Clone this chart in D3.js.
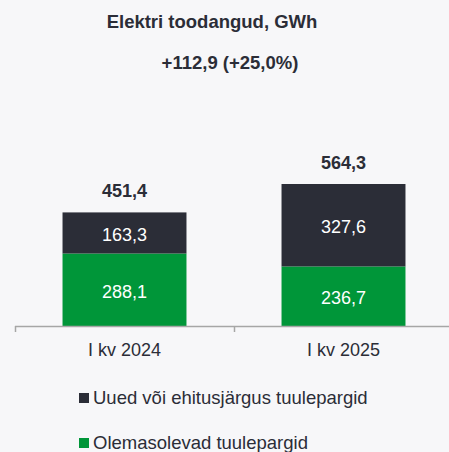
<!DOCTYPE html>
<html>
<head>
<meta charset="utf-8">
<script src="https://cdn.jsdelivr.net/npm/d3@7"></script>
<style>
  html, body { margin: 0; padding: 0; background: #f7f7f9; }
  svg { display: block; font-family: "Liberation Sans", Arial, sans-serif; }
</style>
</head>
<body>
<svg id="chart" width="449" height="452"></svg>
<script>
var categories = ["I kv 2024", "I kv 2025"];
var existing = [288.1, 236.7];
var newParks = [163.3, 327.6];
var totals = [451.4, 564.3];
var seriesNames = ["Uued või ehitusjärgus tuulepargid", "Olemasolevad tuulepargid"];
var titleText = "Elektri toodangud, GWh";
var changeText = "+112,9 (+25,0%)";

var svg = d3.select("#chart");
var colors = { dark: "#2b2d37", green: "#009639", text: "#2b2d37" };

var fmt = function(v) { return d3.format(".1f")(v).replace(".", ","); };

var x = d3.scaleBand().domain(categories).range([15, 453]).padding(0);
var barW = x.bandwidth() * 0.566;
var y = d3.scaleLinear().domain([0, 564.3]).range([326, 184]);

var data = categories.map(function(c, i) {
    return { cat: c, existing: existing[i], newP: newParks[i], total: totals[i] };
});

// title
svg.append("text")
    .attr("x", 212).attr("y", 27.5)
    .attr("text-anchor", "middle")
    .attr("font-size", 18.5).attr("font-weight", "bold")
    .attr("fill", colors.text)
    .text(titleText);

svg.append("text")
    .attr("x", 230).attr("y", 68.5)
    .attr("text-anchor", "middle")
    .attr("font-size", 18.5).attr("font-weight", "bold")
    .attr("fill", colors.text)
    .text(changeText);

var g = svg.selectAll(".bar").data(data).join("g").attr("class", "bar");

g.append("rect")
    .attr("x", d => x(d.cat) + (x.bandwidth() - barW) / 2)
    .attr("width", barW)
    .attr("y", d => y(d.existing))
    .attr("height", d => y(0) - y(d.existing))
    .attr("fill", colors.green);

g.append("rect")
    .attr("x", d => x(d.cat) + (x.bandwidth() - barW) / 2)
    .attr("width", barW)
    .attr("y", d => y(d.existing + d.newP))
    .attr("height", d => y(d.existing) - y(d.existing + d.newP))
    .attr("fill", colors.dark);

// labels inside segments
g.append("text")
    .attr("x", d => x(d.cat) + x.bandwidth() / 2)
    .attr("y", d => (y(0) + y(d.existing)) / 2 + 8)
    .attr("text-anchor", "middle")
    .attr("font-size", 18).attr("fill", "#fff")
    .text(d => fmt(d.existing));

g.append("text")
    .attr("x", d => x(d.cat) + x.bandwidth() / 2)
    .attr("y", d => (y(d.existing) + y(d.existing + d.newP)) / 2 + 8)
    .attr("text-anchor", "middle")
    .attr("font-size", 18).attr("fill", "#fff")
    .text(d => fmt(d.newP));

g.append("text")
    .attr("x", d => x(d.cat) + x.bandwidth() / 2)
    .attr("y", d => y(d.total) - 15)
    .attr("text-anchor", "middle")
    .attr("font-size", 18).attr("font-weight", "bold")
    .attr("fill", colors.text)
    .text(d => fmt(d.total));

// axis
var axis = svg.append("g");
axis.append("line")
    .attr("x1", 15).attr("x2", 449)
    .attr("y1", 326.5).attr("y2", 326.5)
    .attr("stroke", "#a6a6a6").attr("stroke-width", 1.5);
axis.selectAll(".tick").data(categories.concat(["end"]))
    .join("line")
    .attr("x1", (d, i) => 15.5 + i * x.bandwidth())
    .attr("x2", (d, i) => 15.5 + i * x.bandwidth())
    .attr("y1", 326).attr("y2", 332)
    .attr("stroke", "#a6a6a6").attr("stroke-width", 1.5);
axis.selectAll(".lbl").data(categories)
    .join("text")
    .attr("x", d => x(d) + x.bandwidth() / 2)
    .attr("y", 356)
    .attr("text-anchor", "middle")
    .attr("font-size", 18)
    .attr("fill", colors.text)
    .text(d => d);

// legend
var legendColors = [colors.dark, colors.green];
var lg = svg.selectAll(".leg").data(seriesNames).join("g")
    .attr("transform", (d, i) => "translate(79," + (393 + i * 45) + ")");
lg.append("rect").attr("width", 10).attr("height", 10)
    .attr("fill", (d, i) => legendColors[i]);
lg.append("text").attr("x", 14).attr("y", 11)
    .attr("font-size", 18.5).attr("fill", colors.text)
    .text(d => d);
</script>
</body>
</html>
